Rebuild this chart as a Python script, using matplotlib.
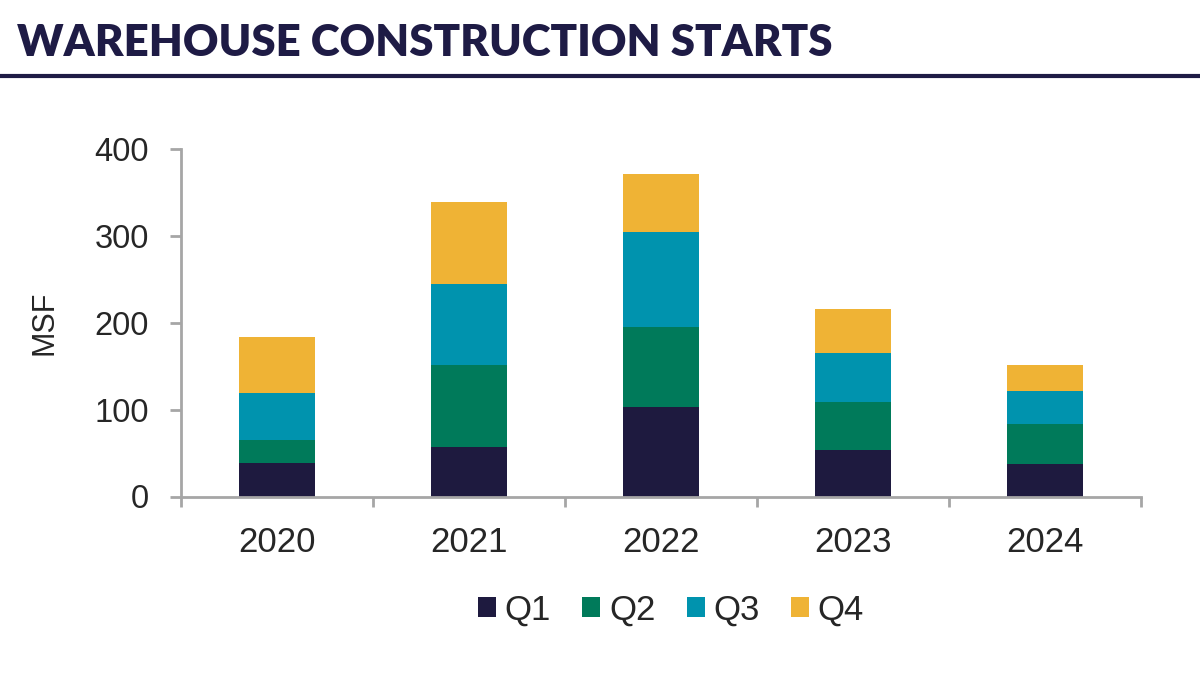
import matplotlib
matplotlib.use("Agg")
import matplotlib.pyplot as plt
import numpy as np

# Warehouse construction starts, MSF per quarter
years = ["2020", "2021", "2022", "2023", "2024"]
q1 = [39, 56.5, 103.5, 53, 38]
q2 = [26, 95, 91.5, 55.5, 45]
q3 = [54, 93.5, 110, 56.5, 38.5]
q4 = [65, 94, 67, 51, 29.5]

series = [("Q1", q1, "#1e1a3f"), ("Q2", q2, "#007a5a"),
          ("Q3", q3, "#0093ae"), ("Q4", q4, "#efb335")]

NAVY = "#1e1b45"
GRAY = "#a6a6a6"
TEXT = "#262626"

plt.rcParams['font.family'] = ['Liberation Sans', 'DejaVu Sans']

fig = plt.figure(figsize=(12, 6.83), dpi=100)
ax = fig.add_axes([181 / 1200, 1 - 496.5 / 683, 960 / 1200, (496.5 - 149.3) / 683])

x = np.arange(len(years))
bottom = np.zeros(len(years))
for name, vals, color in series:
    ax.bar(x, vals, width=0.40, bottom=bottom, color=color, label=name, linewidth=0)
    bottom += np.array(vals)

ax.set_xlim(-0.5, len(years) - 0.5)
ax.set_ylim(0, 400)
ax.set_yticks([0, 100, 200, 300, 400])
ax.set_xticks(x)
ax.set_xticklabels(years)
ax.set_xticks(np.arange(-0.5, len(years)), minor=True)

for side in ["top", "right"]:
    ax.spines[side].set_visible(False)
for side in ["left", "bottom"]:
    ax.spines[side].set_color(GRAY)
    ax.spines[side].set_linewidth(2)

ax.tick_params(axis="y", length=8, width=2, color=GRAY, pad=15, labelsize=23.5, labelcolor=TEXT)
ax.tick_params(axis="x", which="major", length=0, pad=21, labelsize=25, labelcolor=TEXT)
ax.tick_params(axis="x", which="minor", length=7, width=2, color=GRAY)

ax.set_ylabel("MSF", fontsize=22, color=TEXT)
ax.yaxis.set_label_coords(-0.127, 0.5)

leg = ax.legend(loc="center", bbox_to_anchor=(671 / 1200, 1 - 610 / 683),
                bbox_transform=fig.transFigure, ncol=4, frameon=False,
                fontsize=25, handlelength=0.52, handleheight=0.52,
                handletextpad=0.25, columnspacing=0.9)
for t in leg.get_texts():
    t.set_color(TEXT)

# header
fig.text(17 / 1200, 1 - 43 / 683, "WAREHOUSE CONSTRUCTION STARTS", fontsize=31.5,
         fontweight="heavy", family=["Lato", "DejaVu Sans"], color=NAVY,
         ha="left", va="center")
fig.add_artist(plt.Line2D([0, 1], [1 - 75.5 / 683] * 2, transform=fig.transFigure,
                          color=NAVY, linewidth=3))

fig.savefig("out.png", dpi=100, facecolor="white")
